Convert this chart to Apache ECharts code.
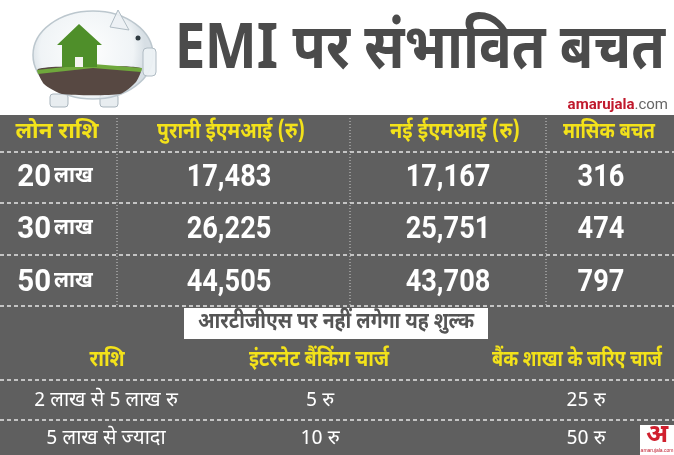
<!DOCTYPE html>
<html>
<head>
<meta charset="utf-8">
<script src="https://cdn.jsdelivr.net/npm/echarts@6/dist/echarts.min.js"></script>
<style>
  html, body { margin: 0; padding: 0; background: #fff; }
  #chart { width: 674px; height: 455px; }
</style>
</head>
<body>
<div id="chart"></div>
<script>
// ---- data ----
const title = 'EMI पर संभावित बचत';
const columnHeaders = ['लोन राशि', 'पुरानी ईएमआई (रु)', 'नई ईएमआई (रु)', 'मासिक बचत'];
const loanAmounts = [20, 30, 50];
const loanUnit = 'लाख';
const oldEmi = [17483, 26225, 44505];
const newEmi = [17167, 25751, 43708];
const monthlySaving = [316, 474, 797];

const rtgsNote = 'आरटीजीएस पर नहीं लगेगा यह शुल्क';
const chargeHeaders = ['राशि', 'इंटरनेट बैंकिंग चार्ज', 'बैंक शाखा के जरिए चार्ज'];
const chargeRanges = ['2 लाख से 5 लाख रु', '5 लाख से ज्यादा'];
const internetCharge = [5, 10];
const branchCharge = [25, 50];
const rupee = 'रु';

// ---- layout ----
const W = 674, H = 455;
const GRAY = '#5f5f5f';
const YELLOW = '#f3e21a';
const HINDI = "'Noto Sans Devanagari', 'Lohit Devanagari', 'Noto Sans', sans-serif";
const NUM = "'Roboto', 'Noto Sans', sans-serif";

const emiCols = [55, 229, 448, 601];
const emiHeadCols = [57, 231, 455, 609];
const emiHeadW = [83, 148, 130, 92];
const emiHeadY = 134;
const emiRowY = [178, 230, 283];
const chargeCols = [106, 320, 586];
const chargeHeadCols = [107, 319, 577];
const chargeHeadW = [35, 140, 170];
const chargeHeadY = 362;
const chargeRowY = [402, 440];

const fmt = v => v.toLocaleString('en-US');

// 文字宽度测量，用来压扁字体
const measureCtx = document.createElement('canvas').getContext('2d');
function textWidth(text, font) {
    measureCtx.font = font;
    return measureCtx.measureText(text).width;
}

const styles = {
    head: { fill: YELLOW, font: 'bold 23px ' + HINDI },
    num: { fill: '#fff', font: 'bold 32px ' + NUM, sx: 0.85 },
    loan: { fill: '#fff', sx: 0.92 },
    plain: { fill: '#fff', font: '20px ' + HINDI, sx: 1 }
};

// build table cells from the arrays
const cells = [];
columnHeaders.forEach((t, i) => cells.push({ x: emiHeadCols[i], y: emiHeadY, text: t, kind: 'head',
    sx: emiHeadW[i] / textWidth(t, styles.head.font) }));
loanAmounts.forEach((v, r) => {
    cells.push({ x: emiCols[0], y: emiRowY[r], text: '{n|' + v + '} {u|' + loanUnit + '}', kind: 'loan' });
    cells.push({ x: emiCols[1], y: emiRowY[r], text: fmt(oldEmi[r]), kind: 'num' });
    cells.push({ x: emiCols[2], y: emiRowY[r], text: fmt(newEmi[r]), kind: 'num' });
    cells.push({ x: emiCols[3], y: emiRowY[r], text: fmt(monthlySaving[r]), kind: 'num' });
});
chargeHeaders.forEach((t, i) => cells.push({ x: chargeHeadCols[i], y: chargeHeadY, text: t, kind: 'head',
    sx: chargeHeadW[i] / textWidth(t, styles.head.font) }));
chargeRanges.forEach((t, r) => {
    cells.push({ x: chargeCols[0], y: chargeRowY[r], text: t, kind: 'plain' });
    cells.push({ x: chargeCols[1], y: chargeRowY[r], text: internetCharge[r] + ' ' + rupee, kind: 'plain' });
    cells.push({ x: chargeCols[2], y: chargeRowY[r], text: branchCharge[r] + ' ' + rupee, kind: 'plain' });
});

// dashed separators
const dash = y => ({
    type: 'line', silent: true,
    shape: { x1: 0, y1: y, x2: W, y2: y },
    style: { stroke: '#e6e6e6', lineWidth: 1.5, lineDash: [4, 3] }
});
const vdot = x => ({
    type: 'line', silent: true,
    shape: { x1: x, y1: 118, x2: x, y2: 306 },
    style: { stroke: '#cfcfcf', lineWidth: 1, lineDash: [1, 2] }
});

// piggy bank (glass) with the green house
const glassFill = { type: 'radial', x: 0.45, y: 0.45, r: 0.65,
    colorStops: [{ offset: 0, color: 'rgba(255,255,255,0.95)' }, { offset: 0.8, color: 'rgba(236,241,244,0.8)' }, { offset: 1, color: 'rgba(205,215,222,0.8)' }] };
const piggy = {
    type: 'group', silent: true,
    children: [
        { type: 'rect', shape: { x: 50, y: 94, width: 18, height: 13, r: 3 }, style: { fill: '#e8edf0', stroke: '#a9b5bd', lineWidth: 1 } },
        { type: 'rect', shape: { x: 100, y: 94, width: 18, height: 13, r: 3 }, style: { fill: '#e8edf0', stroke: '#a9b5bd', lineWidth: 1 } },
        { type: 'ellipse', shape: { cx: 93, cy: 55, rx: 60, ry: 44 }, style: { fill: glassFill, stroke: '#bcc7ce', lineWidth: 1.5 } },
        { type: 'polygon', shape: { points: [[110, 27], [118, 10], [129, 30]] }, style: { fill: 'rgba(236,241,244,0.9)', stroke: '#b0bcc4', lineWidth: 1 } },
        { type: 'rect', shape: { x: 143, y: 48, width: 13, height: 28, r: 4 }, style: { fill: 'rgba(236,241,244,0.95)', stroke: '#b0bcc4', lineWidth: 1 } },
        { type: 'circle', shape: { cx: 138, cy: 38, r: 2.5 }, style: { fill: '#2e3a40' } },
        { type: 'polygon', shape: { points: [[38, 69], [93, 66], [141, 68], [136, 82], [120, 94], [62, 94], [44, 84]], smooth: 0.2 }, style: { fill: '#574842' } },
        { type: 'polygon', shape: { points: [[37, 70], [93, 64], [142, 68], [141, 72], [93, 68], [38, 74]] }, style: { fill: '#6fa83c' } },
        { type: 'polygon', shape: { points: [[79, 24], [57, 45], [62, 45], [62, 67], [97, 67], [97, 45], [102, 45]] }, style: { fill: '#4f8f2a' } },
        { type: 'rect', shape: { x: 75, y: 57, width: 8, height: 10 }, style: { fill: '#f4f4f0' } }
    ]
};

const titleFont = 'bold 62px ' + HINDI;
const noteFont = 'bold 23px ' + HINDI;

const chart = echarts.init(document.getElementById('chart'), null, { renderer: 'canvas' });

chart.setOption({
    animation: false,
    backgroundColor: '#fff',
    grid: { left: 0, right: 0, top: 0, bottom: 0 },
    xAxis: { type: 'value', min: 0, max: W, show: false },
    yAxis: { type: 'value', min: 0, max: H, inverse: true, show: false },
    graphic: [
        { type: 'rect', silent: true, z: -10, shape: { x: 0, y: 115, width: W, height: H - 115 }, style: { fill: GRAY } },
        piggy,
        { type: 'text', silent: true, x: 175, y: 56, scaleX: 490 / textWidth(title, titleFont),
          style: { text: title, font: titleFont, fill: '#4b4b4b', verticalAlign: 'middle' } },
        { type: 'text', silent: true, x: 668, y: 105,
          style: { text: '{a|amarujala}{b|.com}', align: 'right', verticalAlign: 'middle',
                   rich: { a: { fill: '#c0192c', font: 'bold 15px Roboto, sans-serif' }, b: { fill: '#666', font: '15px Roboto, sans-serif' } } } },
        dash(152), dash(203), dash(255), dash(306), dash(380), dash(420),
        vdot(117), vdot(350), vdot(546),
        { type: 'rect', silent: true, shape: { x: 184, y: 308, width: 304, height: 31 }, style: { fill: '#fff' } },
        { type: 'text', silent: true, x: 336, y: 324, scaleX: 276 / textWidth(rtgsNote, noteFont),
          style: { text: rtgsNote, font: noteFont, fill: '#555', align: 'center', verticalAlign: 'middle' } },
        { type: 'rect', silent: true, shape: { x: 640, y: 425, width: 34, height: 30 }, style: { fill: '#fff' } },
        { type: 'text', silent: true, x: 657, y: 437,
          style: { text: 'अ', font: 'bold 26px ' + HINDI, fill: '#d0202e', align: 'center', verticalAlign: 'middle' } },
        { type: 'text', silent: true, x: 657, y: 451,
          style: { text: 'amarujala.com', font: '5px sans-serif', fill: '#c0192c', align: 'center', verticalAlign: 'middle' } }
    ],
    series: [{
        type: 'custom',
        coordinateSystem: 'cartesian2d',
        silent: true,
        data: cells.map(c => [c.x, c.y]),
        renderItem: (params, api) => {
            const c = cells[params.dataIndex];
            const p = api.coord([api.value(0), api.value(1)]);
            const s = styles[c.kind];
            const style = { text: c.text, fill: s.fill, align: 'center', verticalAlign: 'middle' };
            if (c.kind === 'loan') {
                style.rich = {
                    n: { fill: '#fff', font: 'bold 32px ' + NUM },
                    u: { fill: '#fff', font: 'bold 22px ' + HINDI }
                };
            } else {
                style.font = s.font;
            }
            return { type: 'text', x: p[0], y: p[1], scaleX: c.sx || s.sx, style: style };
        }
    }]
});
</script>
</body>
</html>
